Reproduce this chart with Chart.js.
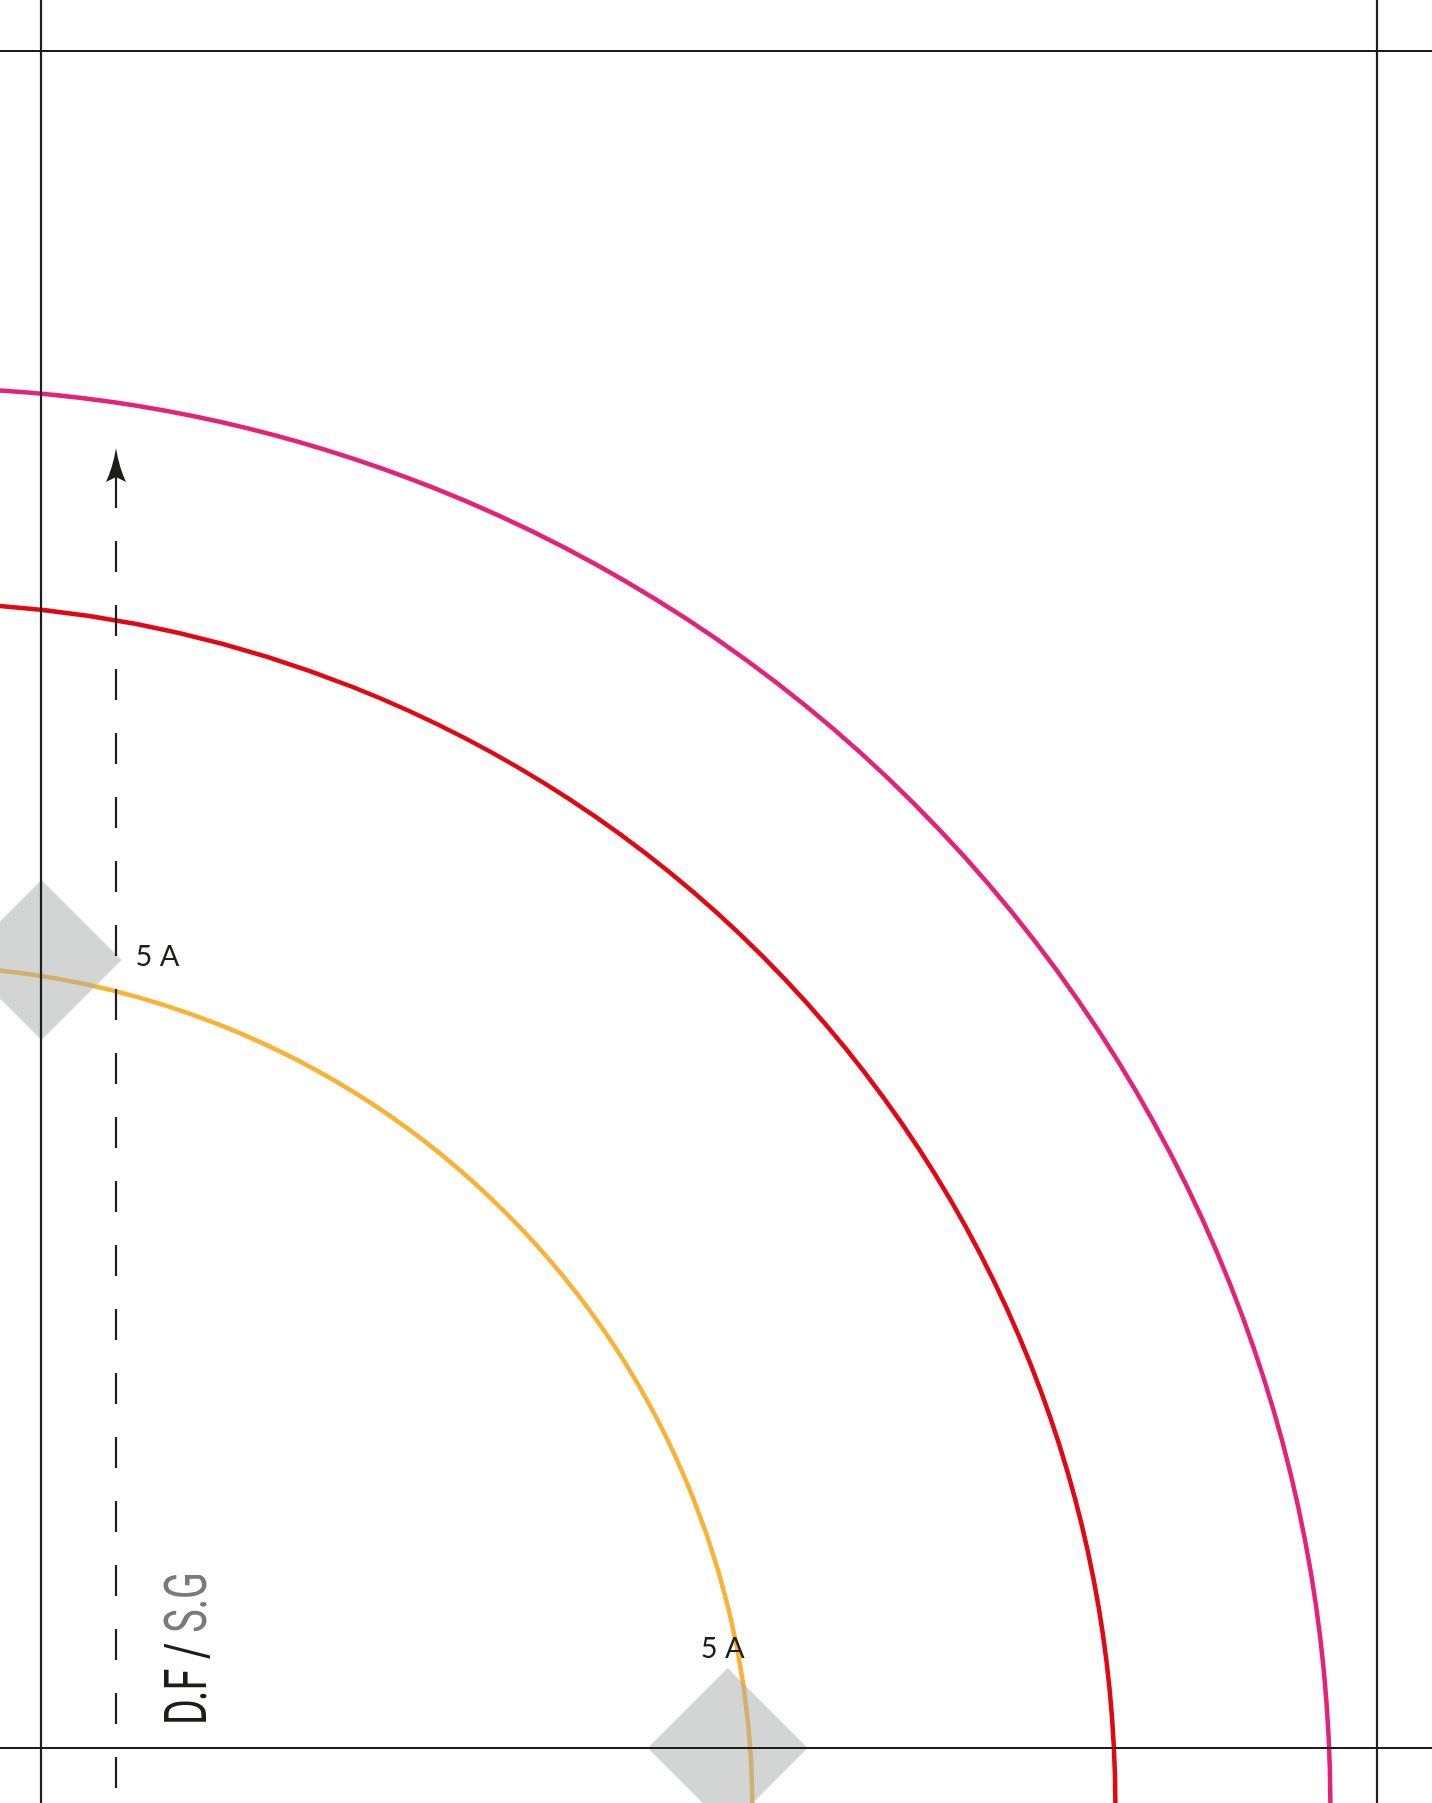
<!DOCTYPE html>
<html>
<head>
<meta charset="utf-8">
<script src="https://cdn.jsdelivr.net/npm/chart.js@4.4.1/dist/chart.umd.min.js"></script>
<style>
  html, body { margin: 0; padding: 0; background: #fff; overflow: hidden; }
  #wrap { width: 1432px; height: 1803px; }
</style>
</head>
<body>
<div id="wrap"><canvas id="pattern" width="1432" height="1803"></canvas></div>
<script>
// Sheet extent (pattern units = reference pixels)
const sheetWidth = 1432;
const sheetHeight = 1803;

// Tile border lines
const borderX = [41, 1377];
const borderY = [51, 1748];

// Quarter-circle arcs, all sharing one centre just off the bottom-left corner
const arcCentre = [-90.6, 1808.6];
const arcNames = ["Waist", "Hem short", "Hem long"];
const arcRadii = [843, 1206, 1421];

// Match notches between tiles
const notchX = [41.5, 727.7];
const notchY = [960, 1748];
const notchLabels = ["5 A", "5 A"];

// Grainline (top = arrow base, bottom = sheet edge)
const grainX = 116;
const grainY = [477, 1803];

// Piece label, drawn in two tones
const pieceLabel = ["D.F / ", "S.G"];

const arcColours = ["#f9b233", "#e30613", "#e6217a"];
const ink = "#1d1d1b";

const patternPlugin = {
  id: "pattern",
  beforeDatasetsDraw(chart) {
    const { ctx, scales: { x, y } } = chart;
    const cx = x.getPixelForValue(arcCentre[0]);
    const cy = y.getPixelForValue(arcCentre[1]);
    ctx.save();
    ctx.lineWidth = 4.5;
    arcRadii.forEach((r, i) => {
      const rp = x.getPixelForValue(arcCentre[0] + r) - cx;
      ctx.beginPath();
      ctx.arc(cx, cy, rp, -Math.PI / 2, 0);
      ctx.strokeStyle = arcColours[i];
      ctx.stroke();
    });
    ctx.restore();
  },
  afterDatasetsDraw(chart) {
    const { ctx, scales: { x, y } } = chart;
    ctx.save();

    // arrow head on top of the grainline
    const bx = x.getPixelForValue(grainX);
    const by = y.getPixelForValue(grainY[0]);
    ctx.fillStyle = ink;
    ctx.beginPath();
    ctx.moveTo(bx, by - 29);
    ctx.quadraticCurveTo(bx + 3, by - 10, bx + 10, by + 5);
    ctx.lineTo(bx, by);
    ctx.lineTo(bx - 10, by + 5);
    ctx.quadraticCurveTo(bx - 3, by - 10, bx, by - 29);
    ctx.fill();

    // notch labels: first to the right, second above
    ctx.font = "29px Lato, 'Open Sans', sans-serif";
    ctx.fillStyle = ink;
    ctx.textBaseline = "alphabetic";
    notchLabels.forEach((lbl, i) => {
      const px = x.getPixelForValue(notchX[i]);
      const py = y.getPixelForValue(notchY[i]);
      if (i === 0) {
        ctx.textAlign = "left";
        ctx.fillText(lbl, px + 94, py + 6);
      } else {
        ctx.textAlign = "center";
        ctx.fillText(lbl, px - 5, py - 90);
      }
    });

    // rotated, condensed piece label
    const lx = bx + 90;
    const ly = y.getPixelForValue(borderY[1]) - 23;
    ctx.translate(lx, ly);
    ctx.rotate(-Math.PI / 2);
    ctx.font = "60px Roboto, 'DejaVu Sans', sans-serif";
    ctx.textAlign = "left";
    const w0 = ctx.measureText(pieceLabel[0]).width;
    const w1 = ctx.measureText(pieceLabel[1]).width;
    ctx.scale(153 / (w0 + w1), 1);
    ctx.fillStyle = ink;
    ctx.fillText(pieceLabel[0], 0, 0);
    ctx.fillStyle = "#7a7a7a";
    ctx.fillText(pieceLabel[1], w0, 0);

    ctx.restore();
  }
};

const frameLines = [
  ...borderY.map(v => [{ x: 0, y: v }, { x: sheetWidth, y: v }]),
  ...borderX.map(v => [{ x: v, y: 0 }, { x: v, y: sheetHeight }])
].map(data => ({
  data,
  showLine: true,
  borderColor: ink,
  borderWidth: 2.2,
  pointRadius: 0,
  order: 1
}));

new Chart(document.getElementById("pattern"), {
  type: "scatter",
  data: {
    datasets: [
      ...frameLines,
      {
        label: "Grainline",
        data: grainY.map(v => ({ x: grainX, y: v })),
        showLine: true,
        borderColor: ink,
        borderWidth: 2.2,
        borderDash: [31, 33],
        pointRadius: 0,
        order: 2
      },
      {
        label: "Notches",
        data: notchX.map((v, i) => ({ x: v, y: notchY[i] })),
        pointStyle: "rectRot",
        pointRadius: 80,
        backgroundColor: "rgba(168,172,172,0.5)",
        borderWidth: 0,
        order: 3
      }
    ]
  },
  options: {
    responsive: false,
    animation: false,
    devicePixelRatio: 1,
    events: [],
    layout: { padding: 0, autoPadding: false },
    plugins: { legend: { display: false }, tooltip: { enabled: false } },
    scales: {
      x: { type: "linear", min: 0, max: sheetWidth, display: false },
      y: { type: "linear", min: 0, max: sheetHeight, reverse: true, display: false }
    }
  },
  plugins: [patternPlugin]
});
</script>
</body>
</html>
